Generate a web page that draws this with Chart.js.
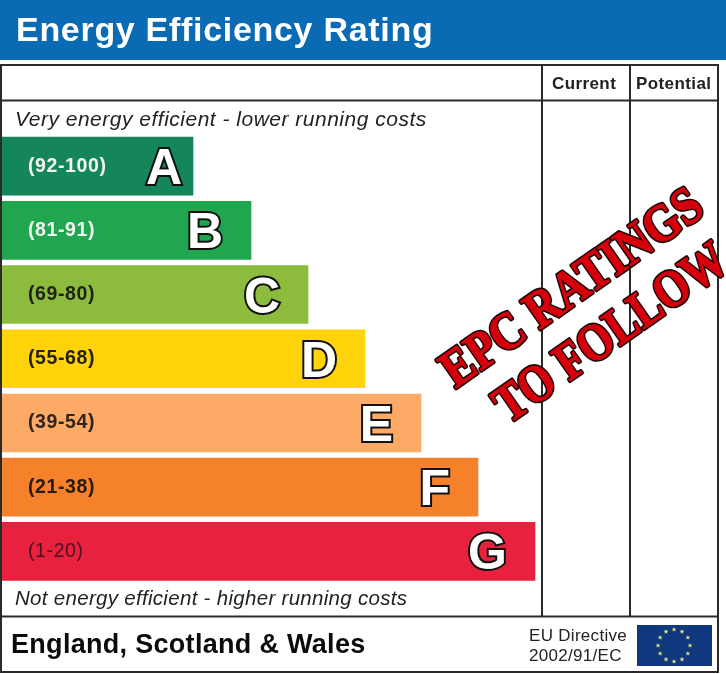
<!DOCTYPE html>
<html>
<head>
<meta charset="utf-8">
<title>Energy Efficiency Rating</title>
<script src="https://cdn.jsdelivr.net/npm/chart.js@4"></script>
<style>
  html, body { margin: 0; padding: 0; background: #fff; }
  canvas { display: block; }
</style>
</head>
<body>
<canvas id="epcCanvas" width="726" height="674"></canvas>
<script>
// bands and how far each bar runs
const bands = ["A", "B", "C", "D", "E", "F", "G"];
const ranges = ["(92-100)", "(81-91)", "(69-80)", "(55-68)", "(39-54)", "(21-38)", "(1-20)"];
const barLengths = [193, 251, 308, 365, 421, 478, 535];
const barColors = ["#15855a", "#21a650", "#8dbb3e", "#fed30a", "#fcaa65", "#f5822a", "#e8213f"];
const rangeColors = ["#f2f6f2", "#f2f6f2", "#1c2410", "#262008", "#30241a", "#2a1a0c", "#4a1020"];
const columnHeads = ["Current", "Potential"];

const FONT = '"Liberation Sans", Arial, sans-serif';
const SERIF = '"Liberation Serif", "Times New Roman", serif';

function text(ctx, str, x, y, font, color, spacing) {
    ctx.font = font;
    ctx.fillStyle = color;
    ctx.letterSpacing = spacing || "0px";
    ctx.fillText(str, x, y);
    ctx.letterSpacing = "0px";
}

function line(ctx, x1, y1, x2, y2) {
    ctx.beginPath();
    ctx.moveTo(x1, y1);
    ctx.lineTo(x2, y2);
    ctx.stroke();
}

function star(ctx, cx, cy, r) {
    ctx.beginPath();
    for (let i = 0; i < 10; i++) {
        const rad = i % 2 ? r * 0.4 : r;
        const a = -Math.PI / 2 + i * Math.PI / 5;
        ctx.lineTo(cx + rad * Math.cos(a), cy + rad * Math.sin(a));
    }
    ctx.closePath();
    ctx.fill();
}

// tilted red stamp across the two right hand columns
function stamp(ctx, str, cx, cy, stretch) {
    ctx.save();
    ctx.translate(cx, cy);
    ctx.rotate(-35 * Math.PI / 180);
    ctx.scale(stretch, 1.08);
    ctx.font = "bold 49px " + SERIF;
    ctx.textAlign = "center";
    ctx.lineJoin = "round";
    ctx.lineWidth = 3.8;
    ctx.strokeStyle = "#1a0505";
    ctx.strokeText(str, 0, 0);
    ctx.lineWidth = 0.8;
    ctx.strokeStyle = "#d6000c";
    ctx.strokeText(str, 0, 0);
    ctx.fillStyle = "#d6000c";
    ctx.fillText(str, 0, 0);
    ctx.restore();
}

const epcPlate = {
    id: "epcPlate",
    afterDatasetsDraw(chart) {
        const ctx = chart.ctx;
        ctx.save();
        ctx.textBaseline = "alphabetic";

        // title strip
        ctx.fillStyle = "#0a6ab4";
        ctx.fillRect(0, 0, 726, 60);
        text(ctx, "Energy Efficiency Rating", 16, 41, "bold 34px " + FONT, "#fff", "0.7px");

        // table frame
        ctx.strokeStyle = "#2a2a2a";
        ctx.lineWidth = 2;
        ctx.strokeRect(1, 65, 717, 607);
        line(ctx, 1, 100.5, 718, 100.5);
        line(ctx, 1, 616.5, 718, 616.5);
        line(ctx, 542, 65, 542, 616);
        line(ctx, 630, 65, 630, 616);

        text(ctx, columnHeads[0], 552, 89, "bold 17px " + FONT, "#222", "0.4px");
        text(ctx, columnHeads[1], 636, 89, "bold 17px " + FONT, "#222", "0.4px");
        text(ctx, "Very energy efficient - lower running costs", 15, 126, "italic 21px " + FONT, "#222", "0.5px");
        text(ctx, "Not energy efficient - higher running costs", 15, 605, "italic 20.5px " + FONT, "#222", "0.3px");

        // range text and band letter on each bar
        chart.getDatasetMeta(0).data.forEach((bar, i) => {
            const weight = i === 6 ? "" : "bold ";
            text(ctx, ranges[i], 28, bar.y + 5.5, weight + "19.5px " + FONT, rangeColors[i], "0.6px");
            const inset = i === 0 ? 11 : 28;
            ctx.font = "bold 50px " + FONT;
            ctx.textAlign = "right";
            ctx.lineJoin = "miter";
            ctx.lineWidth = 4;
            ctx.strokeStyle = "#111";
            ctx.strokeText(bands[i], bar.x - inset, bar.y + 18);
            ctx.fillStyle = "#fff";
            ctx.fillText(bands[i], bar.x - inset, bar.y + 18);
            ctx.textAlign = "left";
        });

        // footer
        text(ctx, "England, Scotland & Wales", 11, 653, "bold 27px " + FONT, "#0b0b0b", "0.3px");
        text(ctx, "EU Directive", 529, 641, "17px " + FONT, "#222", "0.3px");
        text(ctx, "2002/91/EC", 529, 661, "17px " + FONT, "#222", "0.3px");

        // EU flag
        ctx.fillStyle = "#10387f";
        ctx.fillRect(637, 625, 75, 41);
        ctx.fillStyle = "#e8e67a";
        for (let i = 0; i < 12; i++) {
            const a = i * Math.PI / 6;
            star(ctx, 674 + 16 * Math.sin(a), 645.5 - 16 * Math.cos(a), 2.6);
        }

        stamp(ctx, "EPC RATINGS", 581, 301, 0.93);
        stamp(ctx, "TO FOLLOW", 620, 346, 0.9);
        ctx.restore();
    }
};

new Chart(document.getElementById("epcCanvas"), {
    type: "bar",
    data: {
        labels: bands,
        datasets: [{
            data: barLengths,
            backgroundColor: barColors,
            borderWidth: 0,
            barThickness: 58
        }]
    },
    options: {
        indexAxis: "y",
        responsive: false,
        animation: false,
        layout: { padding: { top: 134, bottom: 90.5, left: 0, right: 0 } },
        plugins: { legend: { display: false }, tooltip: { enabled: false } },
        scales: {
            x: { display: false, min: 0, max: 726 },
            y: { display: false }
        }
    },
    plugins: [epcPlate]
});
</script>
</body>
</html>
